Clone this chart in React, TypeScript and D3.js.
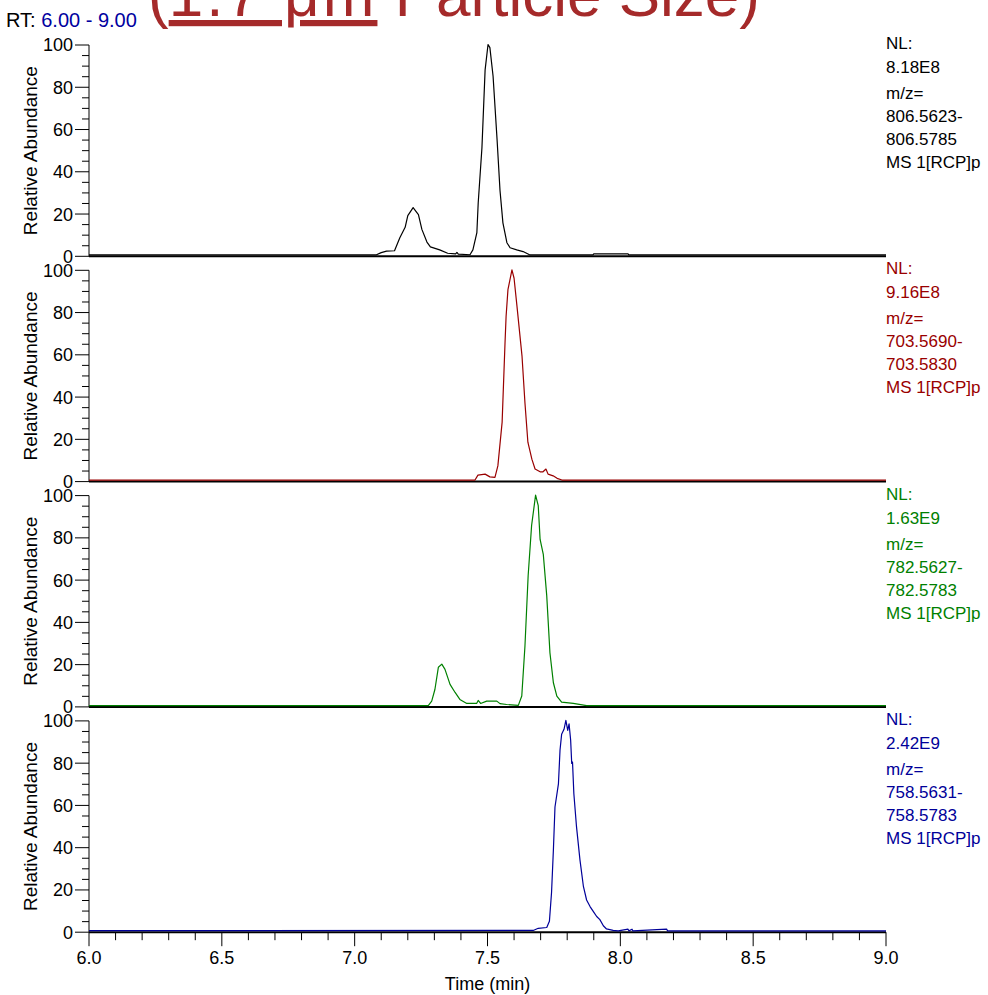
import React from 'react';
import * as d3 from 'd3';

// ---- data ----
const timeDomain: [number, number] = [6.0, 9.0];
const xMajorTicks = [6.0, 6.5, 7.0, 7.5, 8.0, 8.5, 9.0];
const yMajorTicks = [0, 20, 40, 60, 80, 100];

const nlValues = ['8.18E8', '9.16E8', '1.63E9', '2.42E9'];
const mzLow = ['806.5623-', '703.5690-', '782.5627-', '758.5631-'];
const mzHigh = ['806.5785', '703.5830', '782.5783', '758.5783'];
const traceColors = ['#000000', '#990000', '#008000', '#000099'];

const blackTrace: [number, number][] = [
  [6.0, 0.4], [7.08, 0.4], [7.1, 1.5], [7.12, 2.2], [7.15, 2.4], [7.17, 8.5], [7.19, 13.5],
  [7.2, 19], [7.22, 22.8], [7.24, 19.5], [7.253, 12.5], [7.272, 6.5], [7.285, 4.2], [7.32, 2.8],
  [7.35, 1.2], [7.38, 0.9], [7.385, 1.6], [7.39, 0.8], [7.434, 0.5], [7.445, 2.8], [7.46, 11],
  [7.465, 25], [7.479, 51], [7.491, 88], [7.502, 100], [7.509, 98.5], [7.521, 85], [7.536, 55],
  [7.547, 31], [7.558, 15.6], [7.573, 6.2], [7.585, 3.8], [7.61, 2.8], [7.634, 2], [7.66, 0.4],
  [7.897, 0.4], [7.9, 0.9], [8.029, 0.9], [8.032, 0.4], [9.0, 0.4],
];

const redTrace: [number, number][] = [
  [6.0, 0.5], [7.453, 0.5], [7.464, 2.8], [7.491, 3.3], [7.509, 2], [7.528, 1.8], [7.539, 7.2],
  [7.555, 27.8], [7.566, 65.6], [7.57, 78], [7.577, 90.6], [7.592, 100], [7.6, 96], [7.611, 82.7],
  [7.63, 59], [7.641, 37], [7.652, 18.4], [7.667, 10.4], [7.679, 5.7], [7.698, 4.4], [7.709, 4.4],
  [7.72, 5.7], [7.728, 3.3], [7.747, 2.5], [7.762, 1.3], [7.78, 0.5], [9.0, 0.5],
];

const greenTrace: [number, number][] = [
  [6.0, 0.4], [7.277, 0.4], [7.29, 2.5], [7.302, 8], [7.315, 18.5], [7.328, 20], [7.34, 17.5],
  [7.359, 10.4], [7.378, 6.6], [7.396, 3.3], [7.422, 1.4], [7.459, 1.4], [7.465, 2.8], [7.474, 1.4],
  [7.497, 2.5], [7.535, 2.5], [7.547, 1.3], [7.572, 0.9], [7.616, 0.5], [7.629, 4.9], [7.641, 28.6],
  [7.653, 61.8], [7.666, 85.6], [7.681, 100], [7.691, 95], [7.698, 79], [7.71, 72], [7.723, 52.3],
  [7.735, 25.4], [7.748, 11.2], [7.761, 4.9], [7.779, 2], [7.823, 1.4], [7.873, 0.4], [9.0, 0.4],
];

const blueTrace: [number, number][] = [
  [6.0, 0.5], [7.672, 0.6], [7.691, 1.6], [7.723, 2], [7.733, 4.9], [7.741, 18.4], [7.748, 38.7],
  [7.754, 59], [7.767, 70], [7.773, 86], [7.779, 93.4], [7.788, 95.8], [7.795, 100], [7.802, 95.3],
  [7.807, 98.4], [7.813, 90.6], [7.817, 79.6], [7.82, 80.3], [7.825, 65.4], [7.835, 49.7],
  [7.848, 34], [7.861, 21.4], [7.873, 15], [7.886, 11.9], [7.898, 9.6], [7.911, 7.2], [7.923, 5.7],
  [7.936, 2.8], [7.948, 1.3], [7.973, 0.6], [7.992, 0.4], [8.029, 1.2], [8.032, 0.4], [8.044, 1.2],
  [8.047, 0.4], [8.174, 1.2], [8.178, 0.4], [9.0, 0.4],
];

const traces = [blackTrace, redTrace, greenTrace, blueTrace];

const FONT = 'Liberation Sans, Arial, Helvetica, sans-serif';

export default function App() {
  const W = 988;
  const H = 995;
  const x = d3.scaleLinear().domain(timeDomain).range([89, 886]);
  const panelTop = (i: number) => 45 + i * 225.3;
  const panelH = 211.3;
  const xMinor = d3.range(60, 91).map((d) => d / 10).filter((d) => Math.round(d * 10) % 5 !== 0);
  const yMinor = d3.range(0, 101, 5).filter((d) => d % 20 !== 0);

  return (
    <svg
      width={W}
      height={H}
      style={{ position: 'absolute', left: 0, top: 0, background: '#fff' }}
      fontFamily={FONT}
    >
      <rect x={0} y={0} width={W} height={H} fill="#fff" />
      {/* title */}
      <text x={148} y={16} fontSize={62} fill="#a52a2a">
        (<tspan textDecoration="underline" letterSpacing={3}>1.7 μm</tspan> Particle Size)
      </text>
      <text x={6} y={27} fontSize={20}>
        <tspan fill="#000">RT: </tspan>
        <tspan fill="#0000a0">6.00 - 9.00</tspan>
      </text>

      {traces.map((trace, i) => {
        const top = panelTop(i);
        const y = d3.scaleLinear().domain([0, 100]).range([top + panelH, top]);
        const line = d3
          .line<[number, number]>()
          .x((d) => x(d[0]))
          .y((d) => y(d[1]) - 0.5);
        const col = traceColors[i];
        const y0 = y(0);
        const labelLines = ['NL:', nlValues[i], 'm/z=', mzLow[i], mzHigh[i], 'MS 1[RCP]p'];
        const labelDy = [4, 28, 54, 77, 100, 123];
        return (
          <g key={i}>
            {/* y axis */}
            <line x1={89} x2={89} y1={y(100)} y2={y0} stroke="#000" strokeWidth={1} />
            {yMajorTicks.map((t) => (
              <g key={'M' + t}>
                <line x1={75} x2={89} y1={y(t)} y2={y(t)} stroke="#000" strokeWidth={1} />
                <text x={73} y={y(t)} dy="0.36em" textAnchor="end" fontSize={18}>
                  {t}
                </text>
              </g>
            ))}
            {yMinor.map((t) => (
              <line key={'m' + t} x1={82} x2={89} y1={y(t)} y2={y(t)} stroke="#000" strokeWidth={1} />
            ))}
            <text
              transform={`translate(37,${(y(0) + y(100)) / 2}) rotate(-90)`}
              textAnchor="middle"
              fontSize={19}
            >
              Relative Abundance
            </text>
            {/* baseline */}
            <line x1={x(6)} x2={x(9)} y1={y0} y2={y0} stroke="#000" strokeWidth={2} />
            {/* trace */}
            <path d={line(trace) || ''} fill="none" stroke={col} strokeWidth={1.2} strokeLinejoin="round" />
            {/* labels */}
            {labelLines.map((s, k) => (
              <text key={k} x={886} y={top + labelDy[k]} fontSize={17} fill={col}>
                {s}
              </text>
            ))}
          </g>
        );
      })}

      {/* bottom x axis */}
      {(() => {
        const yb = panelTop(3) + panelH;
        return (
          <g>
            {xMajorTicks.map((t) => (
              <g key={'xt' + t}>
                <line x1={x(t)} x2={x(t)} y1={yb} y2={yb + 14} stroke="#000" strokeWidth={1} />
                <text x={x(t)} y={yb + 32} textAnchor="middle" fontSize={18}>
                  {t.toFixed(1)}
                </text>
              </g>
            ))}
            {xMinor.map((t) => (
              <line key={'xm' + t} x1={x(t)} x2={x(t)} y1={yb} y2={yb + 8} stroke="#000" strokeWidth={1} />
            ))}
            <text x={(x(6) + x(9)) / 2} y={yb + 58} textAnchor="middle" fontSize={18}>
              Time (min)
            </text>
          </g>
        );
      })()}
    </svg>
  );
}
